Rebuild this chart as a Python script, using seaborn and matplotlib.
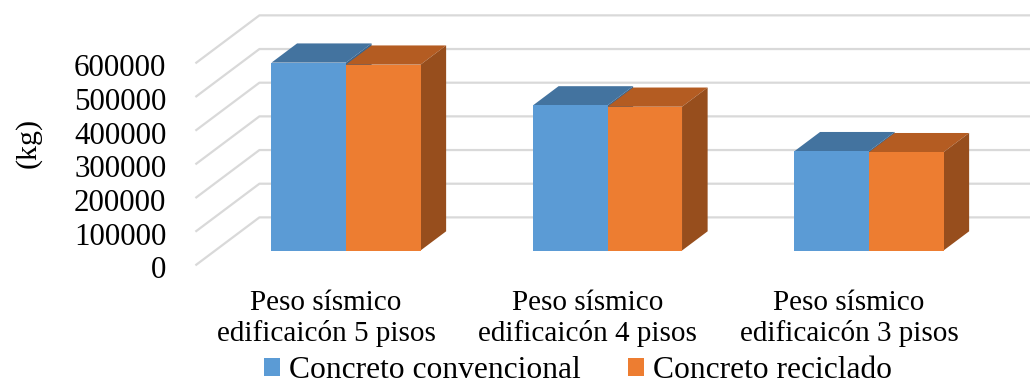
import matplotlib
matplotlib.use("Agg")
import matplotlib.pyplot as plt
from matplotlib.patches import Polygon, Patch
import numpy as np
import pandas as pd
import seaborn as sns

# ---- data -------------------------------------------------------------
categories = [
    "Peso sísmico\nedificaicón 5 pisos",
    "Peso sísmico\nedificaicón 4 pisos",
    "Peso sísmico\nedificaicón 3 pisos",
]
series = ["Concreto convencional", "Concreto reciclado"]
convencional = [558000, 431000, 295000]
reciclado = [552000, 427000, 292000]
y_ticks = [0, 100000, 200000, 300000, 400000, 500000, 600000]
y_label = "(kg)"

# ---- styling ----------------------------------------------------------
front_colors = ["#5B9BD5", "#ED7D31"]
top_colors = ["#43739F", "#B45C22"]
side_colors = ["#3A6690", "#974E1D"]
grid_color = "#D9D9D9"

sns.set_theme(style="white")
plt.rcParams["font.family"] = ["Liberation Serif", "DejaVu Serif"]
plt.rcParams["text.color"] = "#000000"

W, H = 1030, 383
fig = plt.figure(figsize=(W / 100, H / 100), dpi=100)
ax = fig.add_axes([0, 0, 1, 1])

df = pd.DataFrame({
    "categoria": categories * 2,
    "peso": convencional + reciclado,
    "serie": [series[0]] * 3 + [series[1]] * 3,
})
sns.barplot(data=df, x="categoria", y="peso", hue="serie", hue_order=series,
            palette=front_colors, saturation=1, width=0.57, gap=0,
            linewidth=0, legend=False, ax=ax)

# oblique "3D" projection: pixel scale of the plotting plane
GROUP_PX = 261.5          # pixels per category step
FIRST_CENTER_PX = 346     # pixel x of the first category centre
VAL_PER_PX = 100000 / 33.67
BASE_PX = 250.5           # pixel row (from top) of the bar baseline
ax.set_xlim(-FIRST_CENTER_PX / GROUP_PX, (W - FIRST_CENTER_PX) / GROUP_PX)
ax.set_ylim(-(H - BASE_PX) * VAL_PER_PX, BASE_PX * VAL_PER_PX)
ax.axis("off")

# depth vector of the floor, in pixels (right, up)
DEPTH_PX = (64.0, 48.0)
BAR_FRONT, BAR_BACK = 0.31, 0.71


def depth_offset(frac):
    """Data offset for moving `frac` of the floor depth, relative to bar fronts."""
    d = frac - BAR_FRONT
    return d * DEPTH_PX[0] / GROUP_PX, d * DEPTH_PX[1] * VAL_PER_PX


# gridlines: back wall + left side wall
fx, fy = depth_offset(0.0)
bx, by = depth_offset(1.0)
x_left = -0.5
x_right = len(categories) - 0.5 + 0.5
for v in y_ticks:
    ax.plot([x_left + fx, x_left + bx, x_right + bx], [v + fy, v + by, v + by],
            color=grid_color, lw=1.6, zorder=1, solid_capstyle="butt")
    ax.text(x_left + fx - 29 / GROUP_PX, v + fy - 2 * VAL_PER_PX, f"{v}",
            ha="right", va="center_baseline", fontsize=22.3, color="#000000")

# top and side faces of each bar
ddx, ddy = depth_offset(BAR_BACK)
for k, cont in enumerate(ax.containers):
    for rect in cont:
        rect.set_zorder(3 + 2 * k)
        x0, w, h = rect.get_x(), rect.get_width(), rect.get_height()
        x1 = x0 + w
        top = Polygon([(x0, h), (x1, h), (x1 + ddx, h + ddy), (x0 + ddx, h + ddy)],
                      closed=True, facecolor=top_colors[k], edgecolor="none",
                      zorder=2.5 + 2 * k)
        side = Polygon([(x1, 0), (x1, h), (x1 + ddx, h + ddy), (x1 + ddx, ddy)],
                       closed=True, facecolor=side_colors[k], edgecolor="none",
                       zorder=2.5 + 2 * k)
        ax.add_patch(top)
        ax.add_patch(side)

# category labels under the floor front edge
for i, lab in enumerate(categories):
    ax.text(i + fx, -40 * VAL_PER_PX, lab, ha="center", va="top",
            fontsize=21, linespacing=1.17, color="#000000")

fig.text(28 / W, 1 - 143 / H, y_label, rotation=90, ha="center", va="center",
         fontsize=21.6, color="#000000")

handles = [Patch(facecolor=c, edgecolor="none") for c in front_colors]
ax.legend(handles, series, ncol=2, loc="lower center",
          bbox_to_anchor=(578 / W, -0.005), bbox_transform=fig.transFigure,
          frameon=False, fontsize=22.7, handlelength=0.5, handleheight=0.5,
          handletextpad=0.3, columnspacing=1.5, borderaxespad=0, borderpad=0,
          labelcolor="#000000")

fig.savefig("out.png", dpi=100)
